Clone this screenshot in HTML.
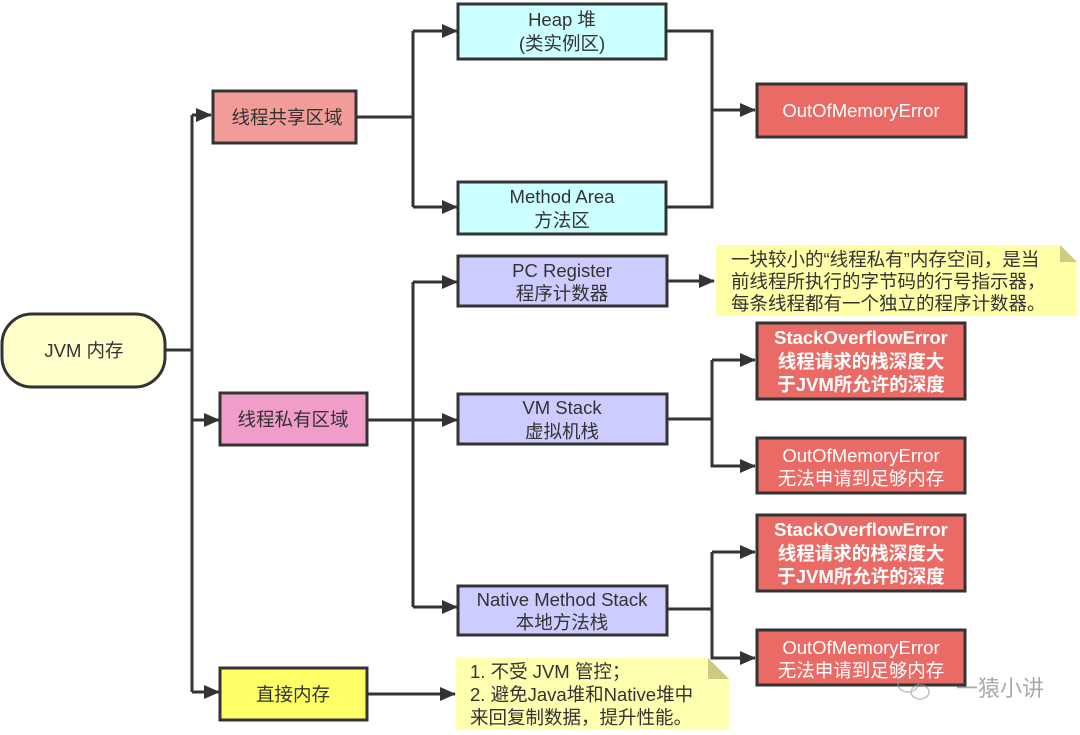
<!DOCTYPE html>
<html><head><meta charset="utf-8"><style>
html,body{margin:0;padding:0;background:#fff;}
svg{display:block;}
text{font-family:"Liberation Sans","Noto Sans CJK SC",sans-serif;font-size:18.5px;fill:#333;text-anchor:middle;}
.w{fill:#fff;}
.bw{fill:#fff;font-weight:bold;}
.n{text-anchor:start;font-size:18.5px;}
</style></head><body>
<svg width="1080" height="735" viewBox="0 0 1080 735" xmlns="http://www.w3.org/2000/svg">
<defs>
<marker id="b" markerWidth="16" markerHeight="14" refX="15" refY="7" orient="auto" markerUnits="userSpaceOnUse"><path d="M0,0 L16,7 L0,14 Z" fill="#333"/></marker></defs>
<g fill="none" stroke="#333" stroke-width="3">
<path d="M165,350 H192"/>
<path d="M192,115 V692"/>
<path d="M192,115 H211" marker-end="url(#b)"/>
<path d="M192,420 H219" marker-end="url(#b)"/>
<path d="M192,692 H219" marker-end="url(#b)"/>
<path d="M356,117 H413"/>
<path d="M413,31 V207"/>
<path d="M413,31 H457" marker-end="url(#b)"/>
<path d="M413,207 H457" marker-end="url(#b)"/>
<path d="M666,31 H712 V207 H666"/>
<path d="M712,110 H755" marker-end="url(#b)"/>
<path d="M367,420 H457" marker-end="url(#b)"/>
<path d="M413,282 V607"/>
<path d="M413,282 H457" marker-end="url(#b)"/>
<path d="M413,607 H457" marker-end="url(#b)"/>
<path d="M667,281 H714" marker-end="url(#b)"/>
<path d="M667,419 H712 V360"/>
<path d="M712,360 H755" marker-end="url(#b)"/>
<path d="M712,419 V466 H755" marker-end="url(#b)"/>
<path d="M667,609 H712 V552"/>
<path d="M712,552 H755" marker-end="url(#b)"/>
<path d="M712,609 V658 H755" marker-end="url(#b)"/>
<path d="M367,694 H455" marker-end="url(#b)"/>
</g>
<g stroke="#333" stroke-width="3">
<rect x="2" y="314" width="163" height="73" rx="30" fill="#ffffcc"/>
<rect x="213" y="91" width="143" height="52" fill="#f19c99"/>
<rect x="220" y="393" width="147" height="52" fill="#f19cc9"/>
<rect x="220" y="668" width="147" height="52" fill="#ffff66"/>
<rect x="458" y="4" width="208" height="55" fill="#ccffff"/>
<rect x="458" y="182" width="208" height="52" fill="#ccffff"/>
<rect x="458" y="256" width="209" height="50" fill="#ccccff"/>
<rect x="458" y="394" width="209" height="50" fill="#ccccff"/>
<rect x="458" y="586" width="209" height="49" fill="#ccccff"/>
<rect x="757" y="84" width="209" height="53" fill="#ea6b66"/>
<rect x="757" y="323" width="208" height="76" fill="#ea6b66"/>
<rect x="757" y="438" width="208" height="55" fill="#ea6b66"/>
<rect x="757" y="515" width="208" height="76" fill="#ea6b66"/>
<rect x="757" y="630" width="208" height="55" fill="#ea6b66"/>
</g>
<path d="M716,245 H1060 L1077,262 V316 H716 Z" fill="#ffffa8"/>
<path d="M1060,245 V262 H1077 Z" fill="#cccc80"/>
<path d="M456,658 H708 L729,679 V730 H456 Z" fill="#ffffb0"/>
<path d="M708,658 V679 H729 Z" fill="#cccc80"/>
<text x="84" y="357">JVM 内存</text>
<text x="287" y="124">线程共享区域</text>
<text x="293" y="426">线程私有区域</text>
<text x="293" y="701">直接内存</text>
<text x="562" y="26">Heap 堆</text>
<text x="562" y="50">(类实例区)</text>
<text x="562" y="203">Method Area</text>
<text x="562" y="227">方法区</text>
<text x="562" y="277">PC Register</text>
<text x="562" y="300">程序计数器</text>
<text x="562" y="414">VM Stack</text>
<text x="562" y="438">虚拟机栈</text>
<text x="562" y="606">Native Method Stack</text>
<text x="562" y="629">本地方法栈</text>
<text class="w" x="861" y="117">OutOfMemoryError</text>
<text class="bw" x="861" y="344">StackOverflowError</text>
<text class="bw" x="861" y="368">线程请求的栈深度大</text>
<text class="bw" x="861" y="391">于JVM所允许的深度</text>
<text class="w" x="861" y="462">OutOfMemoryError</text>
<text class="w" x="861" y="485">无法申请到足够内存</text>
<text class="bw" x="861" y="536">StackOverflowError</text>
<text class="bw" x="861" y="560">线程请求的栈深度大</text>
<text class="bw" x="861" y="583">于JVM所允许的深度</text>
<text class="w" x="861" y="654">OutOfMemoryError</text>
<text class="w" x="861" y="677">无法申请到足够内存</text>
<text class="n" x="731" y="266">一块较小的“线程私有”内存空间，是当</text>
<text class="n" x="731" y="288">前线程所执行的字节码的行号指示器，</text>
<text class="n" x="731" y="310">每条线程都有一个独立的程序计数器。</text>
<text class="n" x="470" y="678">1. 不受 JVM 管控；</text>
<text class="n" x="470" y="701">2. 避免Java堆和Native堆中</text>
<text class="n" x="470" y="724">来回复制数据，提升性能。</text>
<g opacity="0.6" fill="none" stroke="#999" stroke-width="1.5"><ellipse cx="908" cy="684" rx="10" ry="8"/><ellipse cx="920" cy="692" rx="9" ry="7"/></g>
<text x="1000" y="696" style="fill:#aaa;font-size:22px">一猿小讲</text>
</svg>
</body></html>
